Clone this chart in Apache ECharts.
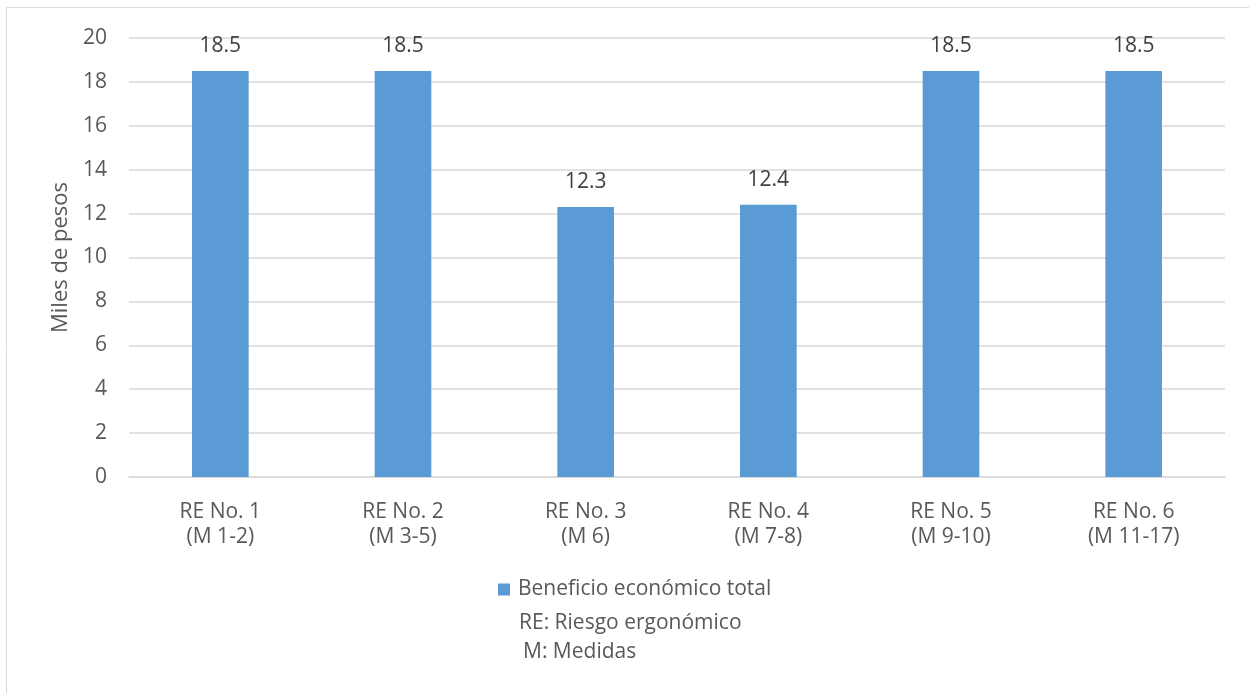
<!DOCTYPE html>
<html>
<head>
<meta charset="utf-8">
<script src="https://cdn.jsdelivr.net/npm/echarts@6/dist/echarts.min.js"></script>
<style>
  html, body { margin: 0; padding: 0; background: #fff; }
  #chart { width: 1249px; height: 693px; }
</style>
</head>
<body>
<div id="chart"></div>
<script>
// Beneficio económico por riesgo ergonómico
const categories = [
  'RE No. 1\n(M 1-2)',
  'RE No. 2\n(M 3-5)',
  'RE No. 3\n(M 6)',
  'RE No. 4\n(M 7-8)',
  'RE No. 5\n(M 9-10)',
  'RE No. 6\n(M 11-17)'
];
const beneficio = [18.5, 18.5, 12.3, 12.4, 18.5, 18.5];
const seriesName = 'Beneficio económico total';
const notes = ['RE: Riesgo ergonómico', 'M: Medidas'];

const FONT = 'Open Sans';
const TEXT = '#595959';
const SIZE = 21;

const chart = echarts.init(document.getElementById('chart'), null, { renderer: 'canvas' });
chart.setOption({
  animation: false,
  backgroundColor: '#fff',
  textStyle: { fontFamily: FONT },
  grid: { left: 129, right: 24, top: 38, bottom: 216 },
  legend: {
    data: [seriesName],
    left: 498, top: 579, padding: 0,
    itemWidth: 12, itemHeight: 12, itemGap: 6,
    icon: 'rect',
    textStyle: { fontFamily: FONT, fontSize: SIZE, color: TEXT, padding: [0, 0, 0, 3] }
  },
  xAxis: {
    type: 'category',
    data: categories,
    axisLine: { lineStyle: { color: '#D9D9D9', width: 1.5 } },
    axisTick: { show: false },
    axisLabel: { fontFamily: FONT, fontSize: SIZE, color: TEXT, lineHeight: 25, margin: 23 }
  },
  yAxis: {
    type: 'value',
    min: 0, max: 20, interval: 2,
    name: 'Miles de pesos',
    nameLocation: 'middle',
    nameGap: 56,
    nameTextStyle: { fontFamily: FONT, fontSize: 22, color: TEXT },
    axisLine: { show: false },
    axisTick: { show: false },
    axisLabel: { fontFamily: FONT, fontSize: SIZE, color: TEXT, margin: 22 },
    splitLine: { lineStyle: { color: '#D9D9D9', width: 1.5 } }
  },
  series: [{
    name: seriesName,
    type: 'bar',
    data: beneficio,
    barWidth: '31%',
    itemStyle: { color: '#5B9BD5' },
    label: {
      show: true, position: 'top', distance: 14,
      fontFamily: FONT, fontSize: SIZE, color: '#404040',
      formatter: p => p.value.toFixed(1)
    }
  }],
  graphic: [
    {
      type: 'rect', silent: true, z: -1,
      shape: { x: 6.5, y: 7.5, width: 1260, height: 700 },
      style: { fill: 'none', stroke: '#D9D9D9', lineWidth: 1 }
    },
    {
      type: 'text', x: 519, y: 623,
      style: { text: notes[0], fontFamily: FONT, fontSize: SIZE, fill: TEXT, verticalAlign: 'middle' }
    },
    {
      type: 'text', x: 523, y: 652,
      style: { text: notes[1], fontFamily: FONT, fontSize: SIZE, fill: TEXT, verticalAlign: 'middle' }
    }
  ]
});
</script>
</body>
</html>
